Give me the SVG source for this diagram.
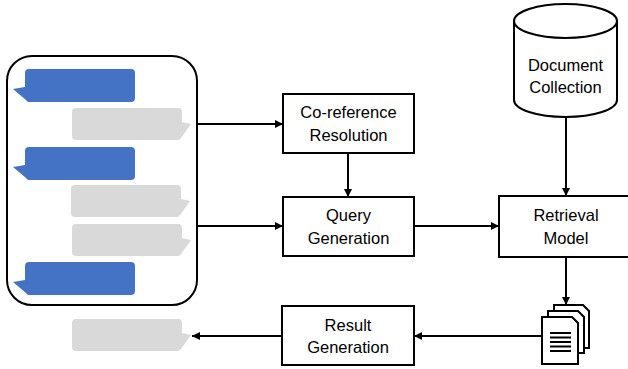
<svg xmlns="http://www.w3.org/2000/svg" width="628" height="369" viewBox="0 0 628 369">
  <style>
    .box { fill: #fff; stroke: #000; stroke-width: 2; }
    .lbl { font-family: "Liberation Sans", Arial, sans-serif; font-size: 16.5px; fill: #000; text-anchor: middle; }
    .conn { stroke: #000; stroke-width: 2; fill: none; marker-end: url(#arr); }
    .blue { fill: #4472C4; }
    .gray { fill: #D9D9D9; }
    .page { fill: #fff; stroke: #000; stroke-width: 2; stroke-linejoin: miter; }
  </style>
  <defs>
    <marker id="arr" viewBox="0 0 10 10" refX="10" refY="5" markerWidth="4" markerHeight="4" orient="auto" markerUnits="strokeWidth">
      <path d="M0,0 L10,5 L0,10 Z" fill="#000"/>
    </marker>
    <path id="bl" d="M4,0 H106 Q110,0 110,4 V29 Q110,33 106,33 H4 Q2,33 1,31 L-12,20 L0,18 V4 Q0,0 4,0 Z"/>
    <path id="gr" d="M4,0 H106 Q110,0 110,4 V14 L119,16 L109,30 Q108,32 106,32 H4 Q0,32 0,28 V4 Q0,0 4,0 Z"/>
  </defs>
  <rect width="628" height="369" fill="#fff"/>

  <g id="conversation">
    <rect x="7" y="56" width="190" height="249" rx="25" ry="25" class="box"/>
    <use href="#bl" class="blue" x="25" y="69"/>
    <use href="#gr" class="gray" x="72" y="108"/>
    <use href="#bl" class="blue" x="25" y="147"/>
    <use href="#gr" class="gray" x="71" y="185"/>
    <use href="#gr" class="gray" x="72" y="224"/>
    <use href="#bl" class="blue" x="25" y="262"/>
  </g>

  <g id="coref">
    <rect x="283" y="94" width="131" height="59" class="box"/>
    <text class="lbl" x="348.5" y="118">Co-reference</text>
    <text class="lbl" x="348.5" y="141">Resolution</text>
  </g>

  <g id="query">
    <rect x="283" y="197" width="131" height="59" class="box"/>
    <text class="lbl" x="348.5" y="221">Query</text>
    <text class="lbl" x="348.5" y="244">Generation</text>
  </g>

  <g id="retrieval">
    <rect x="499" y="196" width="134" height="61" class="box"/>
    <text class="lbl" x="566" y="221">Retrieval</text>
    <text class="lbl" x="566" y="244">Model</text>
  </g>

  <g id="collection">
    <path d="M514,21 V100 A51.5,17 0 0 0 617,100 V21" class="box"/>
    <ellipse cx="565.5" cy="21" rx="51.5" ry="17" class="box"/>
    <text class="lbl" x="565.5" y="71">Document</text>
    <text class="lbl" x="565.5" y="93">Collection</text>
  </g>

  <g id="results">
    <path d="M554,305 H583 L589,311 V348 H554 Z" class="page"/>
    <path d="M548,311 H578 L584,317 V353 H548 Z" class="page"/>
    <path d="M542,317 H572 L578,323 V364 H542 Z" class="page"/>
    <g stroke="#000" stroke-width="2">
      <line x1="550" y1="333" x2="571" y2="333"/>
      <line x1="550" y1="337.5" x2="571" y2="337.5"/>
      <line x1="550" y1="342" x2="571" y2="342"/>
      <line x1="550" y1="346.5" x2="571" y2="346.5"/>
      <line x1="550" y1="351" x2="571" y2="351"/>
    </g>
  </g>

  <g id="resultgen">
    <rect x="282" y="306" width="132" height="59" class="box"/>
    <text class="lbl" x="348" y="331">Result</text>
    <text class="lbl" x="348" y="353">Generation</text>
  </g>

  <g id="output">
    <use href="#gr" class="gray" x="72" y="319"/>
  </g>

  <g id="connectors">
    <line class="conn" x1="197" y1="124" x2="283" y2="124"/>
    <line class="conn" x1="197" y1="226" x2="283" y2="226"/>
    <line class="conn" x1="348" y1="153" x2="348" y2="197"/>
    <line class="conn" x1="414" y1="226" x2="499" y2="226"/>
    <line class="conn" x1="566" y1="117" x2="566" y2="196"/>
    <line class="conn" x1="566" y1="257" x2="566" y2="305"/>
    <line class="conn" x1="542" y1="336" x2="414" y2="336"/>
    <line class="conn" x1="282" y1="336" x2="192" y2="336"/>
  </g>
</svg>
